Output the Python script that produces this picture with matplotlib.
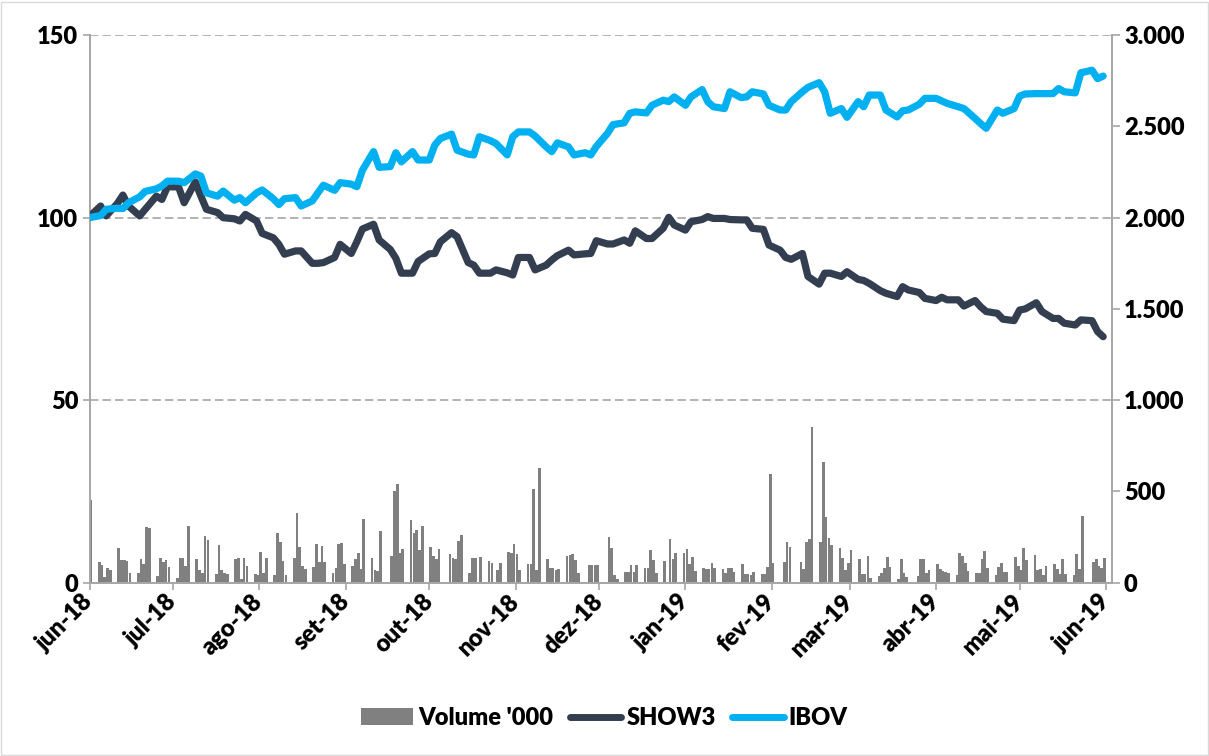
import matplotlib
matplotlib.use('Agg')
import matplotlib.pyplot as plt
import matplotlib.transforms as mtransforms
import pandas as pd
from matplotlib.patches import Rectangle, Patch
from matplotlib.lines import Line2D
from matplotlib.ticker import FuncFormatter

plt.rcParams['font.family'] = ['Lato', 'DejaVu Sans']
plt.rcParams['font.weight'] = 'heavy'
plt.rcParams['lines.scale_dashes'] = False

# ---------------- data ----------------
trade_days = pd.bdate_range('2018-06-01', '2019-05-31')
line_days = trade_days[::2]

ibov = [100.0, 100.6, 102.3, 102.6, 102.5, 104.1, 105.7, 107.2, 107.9, 108.7,
        110.0, 110.0, 109.6, 112.0, 111.4, 106.8, 105.9, 107.3, 104.8, 105.5,
        104.1, 106.8, 107.6, 105.2, 103.6, 105.2, 105.5, 103.2, 104.6, 106.8,
        108.9, 107.5, 109.6, 109.2, 108.5, 113.0, 118.1, 113.8, 114.0, 117.8,
        115.3, 118.1, 115.8, 115.8, 119.9, 121.7, 122.9, 118.5, 117.4, 117.2,
        122.2, 121.1, 120.3, 117.2, 122.2, 123.5, 123.5, 122.4, 119.4, 118.1,
        120.5, 119.4, 117.2, 117.8, 117.2, 119.5, 123.1, 125.5, 126.0, 128.6,
        129.0, 128.7, 130.8, 132.2, 131.8, 133.1, 130.8, 133.1, 135.1, 131.8,
        130.4, 129.9, 134.5, 132.9, 133.1, 134.5, 133.9, 130.8, 129.5, 129.5,
        131.8, 134.5, 135.7, 137.0, 134.5, 128.6, 129.9, 127.5, 131.8, 130.4,
        133.6, 133.6, 129.5, 127.6, 129.3, 129.5, 131.1, 132.7, 132.7, 132.0,
        131.3, 130.4, 129.9, 127.2, 125.8, 124.5, 129.5, 128.6, 129.9, 133.3,
        133.9, 134.0, 134.0, 134.0, 135.4, 134.5, 134.2, 139.7, 140.4, 138.1,
        138.8]

show3 = [100.3, 103.2, 100.5, 103.9, 106.2, 103.2, 100.5, 102.3, 105.9, 105.0,
         108.5, 108.4, 104.1, 109.8, 105.9, 102.3, 101.4, 100.0, 99.7, 99.1,
         100.9, 99.1, 95.7, 94.5, 92.7, 90.0, 90.9, 90.9, 87.5, 87.5,
         87.7, 89.1, 92.7, 90.2, 93.4, 96.9, 98.2, 93.9, 91.3, 88.9,
         84.8, 84.8, 88.0, 90.1, 90.2, 93.4, 95.9, 94.8, 87.7, 87.0,
         84.8, 84.8, 85.7, 84.9, 84.3, 89.1, 89.1, 85.7, 87.0, 88.4,
         89.6, 91.1, 89.8, 90.1, 90.2, 93.7, 92.8, 92.8, 93.9, 93.0,
         96.4, 94.3, 94.3, 97.1, 100.1, 98.0, 96.6, 98.9, 99.5, 100.3,
         99.8, 99.8, 99.5, 99.4, 99.4, 97.1, 96.8, 92.5, 91.1, 89.1,
         88.6, 90.2, 83.9, 81.8, 84.8, 84.8, 83.9, 85.2, 83.1, 82.8,
         82.0, 80.0, 79.3, 78.4, 81.1, 80.2, 79.5, 77.9, 77.3, 78.2,
         77.5, 77.5, 75.8, 77.3, 75.6, 74.3, 73.8, 72.2, 71.8, 74.7,
         75.0, 76.7, 74.3, 72.4, 72.4, 71.1, 70.6, 72.0, 71.8, 68.8,
         67.4]

volume = [453,
          115, 97, 33, 78, 69,
          188, 124, 124, 120, 51,
          51, 128, 102, 307, 297,
          37, 133, 115, 124, 88,
          24, 133, 133, 93, 312,
          130, 69, 55, 254, 234,
          47, 206, 69, 55, 47,
          130, 133, 18, 137, 91,
          46, 42, 170, 55, 133,
          42, 270, 224, 120, 40,
          133, 380, 197, 93, 75,
          88, 212, 111, 203, 111,
          51, 78, 210, 215, 100,
          91, 128, 161, 77, 347,
          133, 69, 66, 283, 0,
          146, 502, 540, 161, 184,
          343, 274, 288, 179, 310,
          197, 146, 128, 183, 0,
          157, 133, 128, 230, 261,
          55, 133, 137, 0, 139,
          120, 110, 0, 69, 106,
          170, 161, 210, 155, 69,
          100, 100, 513, 69, 631,
          130, 78, 78, 69, 73,
          146, 151, 157, 124, 51,
          0, 97, 97, 97, 97,
          0, 248, 188, 42, 20,
          60, 60, 97, 60, 97,
          78, 78, 179, 124, 51,
          119, 0, 237, 128, 164,
          161, 184, 100, 139, 64,
          78, 75, 75, 110, 78,
          75, 51, 82, 82, 60,
          102, 46, 46, 42, 60,
          46, 46, 88, 595, 106,
          0, 111, 221, 197, 0,
          111, 73, 221, 239, 854,
          224, 662, 358, 246, 206,
          192, 133, 69, 110, 179,
          128, 46, 47, 146, 27,
          38, 55, 82, 139, 88,
          18, 128, 55, 33, 0,
          38, 128, 128, 55, 69,
          102, 75, 64, 60, 55,
          42, 164, 146, 106, 64,
          51, 51, 128, 175, 82,
          42, 88, 106, 57, 57,
          139, 91, 69, 188, 124,
          151, 69, 73, 42, 93,
          102, 75, 47, 128, 47,
          42, 155, 75, 365, 0,
          111, 128, 93, 78, 133]

month_ticks = pd.date_range('2018-06-01', '2019-06-01', freq='MS')
month_labels = ['jun-18', 'jul-18', 'ago-18', 'set-18', 'out-18', 'nov-18',
                'dez-18', 'jan-19', 'fev-19', 'mar-19', 'abr-19', 'mai-19', 'jun-19']
left_ticks = [0, 50, 100, 150]
right_ticks = [0, 500, 1000, 1500, 2000, 2500, 3000]

# ---------------- figure ----------------
W, H = 1209, 756
fig = plt.figure(figsize=(W / 100, H / 100), dpi=100)
fig.patches.append(Rectangle((0.5 / W, 1.5 / H), (W - 2) / W, (H - 3) / H,
                             transform=fig.transFigure, fill=False,
                             edgecolor='#d9d9d9', linewidth=1.0))

L, R, T, B = 89.5, 1111.5, 35.2, 582.7
ax = fig.add_axes([L / W, 1 - B / H, (R - L) / W, (B - T) / H])
ax2 = ax.twinx()

grey = '#a6a6a6'
fs = 17

# volume bars (right axis)
ax2.bar(trade_days + pd.Timedelta(hours=12), volume, width=0.95,
        color='#808080', linewidth=0, zorder=2)
ax2.set_ylim(0, 3000)
ax2.set_yticks(right_ticks)
ax2.yaxis.set_major_formatter(FuncFormatter(lambda v, p: f'{int(v):,}'.replace(',', '.')))

# lines (left axis)
ax.plot(line_days, show3, color='#333F50', lw=5.2, solid_joinstyle='round',
        solid_capstyle='round', zorder=3)
ax.plot(line_days, ibov, color='#00B0F0', lw=5.2, solid_joinstyle='round',
        solid_capstyle='round', zorder=3)
ax.set_ylim(0, 150)
ax.set_yticks(left_ticks)
ax.set_xlim(pd.Timestamp('2018-06-01'), pd.Timestamp('2019-06-03'))
ax.set_xticks(month_ticks)
ax.set_xticklabels(month_labels, rotation=45, ha='right', va='center',
                   rotation_mode='anchor', fontsize=fs, fontweight='heavy')
shift = mtransforms.ScaledTranslation(10 / 100, -8 / 100, fig.dpi_scale_trans)
for lab in ax.get_xticklabels():
    lab.set_transform(lab.get_transform() + shift)

ax.set_zorder(ax2.get_zorder() + 1)
ax.patch.set_visible(False)

ax.yaxis.grid(True, color=grey, linestyle=(0, (6, 3)), linewidth=1.2)
ax.set_axisbelow(True)

for a in (ax, ax2):
    a.spines['top'].set_visible(False)
    for s in ('left', 'right', 'bottom'):
        a.spines[s].set_color(grey)
        a.spines[s].set_linewidth(1.2)

ax.tick_params(axis='y', direction='out', length=5, width=1.2, color=grey,
               labelsize=fs, pad=3)
ax.tick_params(axis='x', direction='out', length=5, width=1.2, color=grey,
               labelsize=fs, pad=6)
ax2.tick_params(axis='y', direction='out', length=6, width=1.2, color=grey,
                labelsize=fs, pad=3)
for lab in ax.get_yticklabels() + ax2.get_yticklabels():
    lab.set_fontweight('heavy')

handles = [Patch(facecolor='#808080', edgecolor='none'),
           Line2D([], [], color='#333F50', lw=5, solid_capstyle='round'),
           Line2D([], [], color='#00B0F0', lw=5, solid_capstyle='round')]
fig.legend(handles, ["Volume '000", 'SHOW3', 'IBOV'], loc='center',
           bbox_to_anchor=(0.5, 1 - 718 / H), ncol=3, frameon=False,
           handlelength=2.2, handletextpad=0.2, columnspacing=0.7,
           prop={'weight': 'heavy', 'size': fs})

fig.savefig('out.png', dpi=100)
